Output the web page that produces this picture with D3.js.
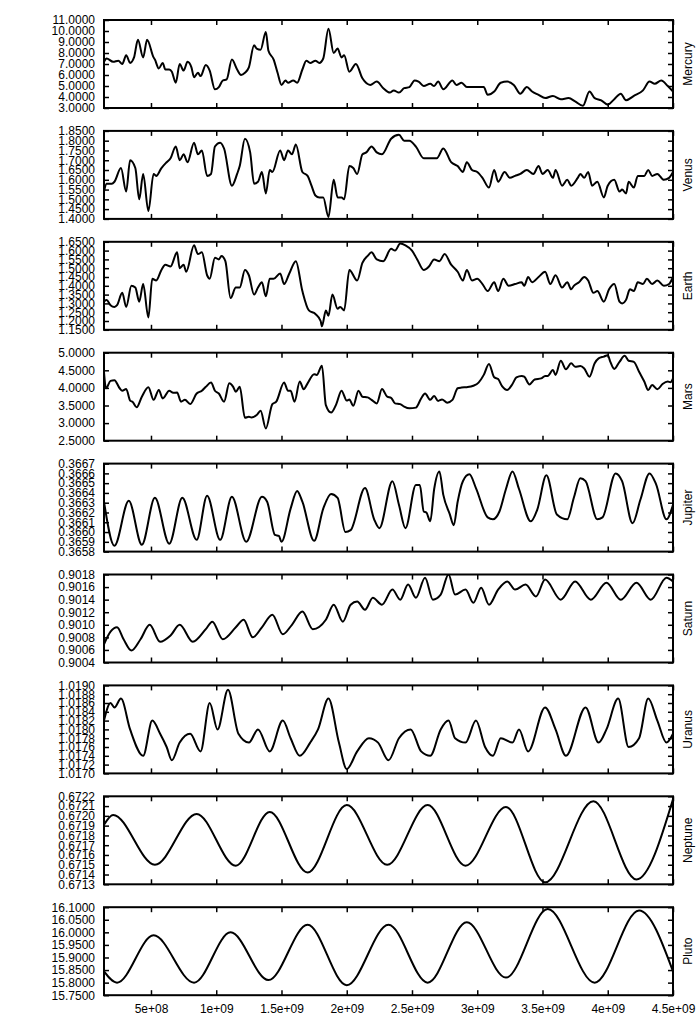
<!DOCTYPE html>
<html>
<head>
<meta charset="utf-8">
<script src="https://cdn.jsdelivr.net/npm/d3@7"></script>
<style>
  body { margin: 0; background: #fff; }
  text { font-family: "Liberation Sans", Arial, Helvetica, sans-serif; font-size: 12px; fill: #000; }
</style>
</head>
<body>
<div id="chart"></div>
<script>
// time in units of 1e9
var xTicks = [0.5, 1, 1.5, 2, 2.5, 3, 3.5, 4, 4.5];
var xTickLabels = ["5e+08", "1e+09", "1.5e+09", "2e+09", "2.5e+09", "3e+09", "3.5e+09", "4e+09", "4.5e+09"];

var names = ["Mercury", "Venus", "Earth", "Mars", "Jupiter", "Saturn", "Uranus", "Neptune", "Pluto"];

var yTicksMercury = [3, 4, 5, 6, 7, 8, 9, 10, 11];
var yTicksVenus = [1.40, 1.45, 1.50, 1.55, 1.60, 1.65, 1.70, 1.75, 1.80, 1.85];
var yTicksEarth = [1.15, 1.20, 1.25, 1.30, 1.35, 1.40, 1.45, 1.50, 1.55, 1.60, 1.65];
var yTicksMars = [2.5, 3.0, 3.5, 4.0, 4.5, 5.0];
var yTicksJupiter = [0.3658, 0.3659, 0.3660, 0.3661, 0.3662, 0.3663, 0.3664, 0.3665, 0.3666, 0.3667];
var yTicksSaturn = [0.9004, 0.9006, 0.9008, 0.9010, 0.9012, 0.9014, 0.9016, 0.9018];
var yTicksUranus = [1.0170, 1.0172, 1.0174, 1.0176, 1.0178, 1.0180, 1.0182, 1.0184, 1.0186, 1.0188, 1.0190];
var yTicksNeptune = [0.6713, 0.6714, 0.6715, 0.6716, 0.6717, 0.6718, 0.6719, 0.6720, 0.6721, 0.6722];
var yTicksPluto = [15.75, 15.80, 15.85, 15.90, 15.95, 16.00, 16.05, 16.10];

var mercury = [[0.14,7.2],[0.16,7.5],[0.21,7.2],[0.25,7.3],[0.28,7.0],[0.31,7.8],[0.34,7.1],[0.37,7.6],[0.40,9.2],[0.44,7.6],[0.47,9.2],[0.52,7.6],[0.53,7.4],[0.56,6.6],[0.59,7.1],[0.61,6.5],[0.64,6.5],[0.66,6.3],[0.69,5.3],[0.72,7.0],[0.75,6.4],[0.78,7.2],[0.81,6.7],[0.83,5.8],[0.86,6.2],[0.88,5.9],[0.92,6.9],[0.95,6.4],[0.99,4.7],[1.02,4.9],[1.05,5.5],[1.08,5.6],[1.12,7.4],[1.16,6.5],[1.19,6.0],[1.22,6.2],[1.25,6.7],[1.29,8.7],[1.31,8.4],[1.34,8.3],[1.38,9.9],[1.40,8.2],[1.44,7.4],[1.47,6.2],[1.50,5.1],[1.53,5.5],[1.55,5.3],[1.59,5.5],[1.62,5.3],[1.66,6.5],[1.69,7.3],[1.72,7.1],[1.76,7.3],[1.79,7.1],[1.82,7.5],[1.86,10.2],[1.90,8.0],[1.93,8.4],[1.96,7.6],[1.98,7.8],[2.02,6.3],[2.07,7.0],[2.12,5.7],[2.18,5.1],[2.23,5.4],[2.28,4.8],[2.33,4.4],[2.36,4.6],[2.40,4.4],[2.44,4.8],[2.48,4.9],[2.52,5.5],[2.55,5.4],[2.59,5.0],[2.64,5.2],[2.67,5.0],[2.70,5.4],[2.74,4.7],[2.81,5.5],[2.84,5.1],[2.88,5.3],[2.92,4.9],[3.01,4.9],[3.05,4.9],[3.08,4.2],[3.13,4.5],[3.18,5.3],[3.23,5.4],[3.28,5.1],[3.33,4.3],[3.38,4.9],[3.42,4.5],[3.47,4.2],[3.52,3.9],[3.58,4.1],[3.64,3.8],[3.70,3.9],[3.75,3.6],[3.81,3.2],[3.86,4.5],[3.90,3.9],[3.95,3.7],[4.00,3.3],[4.05,3.8],[4.10,4.3],[4.14,3.7],[4.20,4.1],[4.27,4.6],[4.32,5.4],[4.36,5.2],[4.41,5.5],[4.46,5.0],[4.50,4.5]];

var venus = [[0.14,1.54],[0.16,1.58],[0.20,1.58],[0.22,1.59],[0.27,1.66],[0.31,1.54],[0.34,1.70],[0.38,1.66],[0.41,1.50],[0.44,1.63],[0.48,1.44],[0.52,1.63],[0.54,1.62],[0.58,1.66],[0.62,1.69],[0.65,1.71],[0.69,1.77],[0.72,1.70],[0.75,1.73],[0.78,1.69],[0.83,1.79],[0.86,1.73],[0.89,1.75],[0.93,1.62],[0.96,1.63],[0.99,1.77],[1.03,1.79],[1.06,1.76],[1.12,1.57],[1.16,1.63],[1.18,1.67],[1.22,1.81],[1.26,1.74],[1.29,1.58],[1.32,1.59],[1.35,1.64],[1.38,1.53],[1.41,1.65],[1.43,1.64],[1.49,1.75],[1.52,1.70],[1.55,1.75],[1.58,1.73],[1.61,1.78],[1.66,1.64],[1.70,1.62],[1.73,1.57],[1.76,1.52],[1.79,1.51],[1.82,1.51],[1.86,1.41],[1.90,1.60],[1.93,1.51],[1.96,1.51],[1.98,1.50],[2.02,1.67],[2.05,1.66],[2.08,1.63],[2.12,1.73],[2.15,1.74],[2.19,1.77],[2.23,1.74],[2.27,1.73],[2.34,1.81],[2.40,1.83],[2.44,1.80],[2.48,1.80],[2.53,1.77],[2.59,1.71],[2.63,1.71],[2.69,1.71],[2.74,1.76],[2.80,1.69],[2.85,1.67],[2.89,1.64],[2.92,1.69],[2.96,1.65],[3.00,1.64],[3.04,1.61],[3.09,1.56],[3.13,1.65],[3.16,1.59],[3.21,1.64],[3.25,1.61],[3.29,1.62],[3.33,1.63],[3.38,1.65],[3.43,1.63],[3.47,1.67],[3.50,1.63],[3.54,1.65],[3.58,1.61],[3.60,1.65],[3.65,1.57],[3.69,1.60],[3.72,1.57],[3.77,1.61],[3.79,1.63],[3.82,1.61],[3.85,1.64],[3.88,1.57],[3.92,1.59],[3.97,1.51],[4.00,1.57],[4.05,1.60],[4.09,1.54],[4.11,1.55],[4.14,1.53],[4.16,1.59],[4.20,1.56],[4.23,1.62],[4.28,1.62],[4.31,1.65],[4.34,1.62],[4.38,1.63],[4.43,1.60],[4.47,1.61],[4.50,1.64]];

var earth = [[0.14,1.31],[0.16,1.32],[0.19,1.29],[0.22,1.28],[0.24,1.29],[0.28,1.36],[0.31,1.28],[0.35,1.40],[0.38,1.39],[0.41,1.31],[0.44,1.41],[0.48,1.22],[0.51,1.44],[0.54,1.43],[0.58,1.49],[0.61,1.52],[0.65,1.51],[0.70,1.59],[0.72,1.50],[0.75,1.52],[0.77,1.48],[0.83,1.63],[0.86,1.58],[0.89,1.59],[0.93,1.46],[0.95,1.44],[0.99,1.56],[1.02,1.55],[1.04,1.57],[1.07,1.54],[1.11,1.33],[1.15,1.39],[1.18,1.39],[1.22,1.49],[1.25,1.46],[1.29,1.35],[1.32,1.39],[1.35,1.42],[1.38,1.34],[1.41,1.44],[1.44,1.44],[1.49,1.47],[1.52,1.41],[1.56,1.47],[1.61,1.54],[1.66,1.37],[1.71,1.26],[1.76,1.24],[1.80,1.20],[1.81,1.17],[1.84,1.26],[1.86,1.23],[1.89,1.35],[1.93,1.27],[1.95,1.28],[1.98,1.26],[2.02,1.49],[2.08,1.43],[2.12,1.53],[2.16,1.57],[2.19,1.59],[2.23,1.55],[2.28,1.54],[2.34,1.61],[2.37,1.60],[2.41,1.64],[2.45,1.63],[2.50,1.60],[2.54,1.55],[2.59,1.49],[2.63,1.51],[2.67,1.55],[2.71,1.54],[2.75,1.58],[2.80,1.52],[2.85,1.48],[2.89,1.43],[2.92,1.49],[2.96,1.43],[3.00,1.44],[3.04,1.41],[3.08,1.37],[3.13,1.42],[3.16,1.37],[3.20,1.44],[3.24,1.40],[3.29,1.41],[3.34,1.42],[3.36,1.40],[3.39,1.45],[3.42,1.42],[3.47,1.45],[3.52,1.48],[3.56,1.41],[3.60,1.46],[3.65,1.39],[3.69,1.42],[3.72,1.38],[3.74,1.40],[3.78,1.42],[3.82,1.45],[3.85,1.43],[3.89,1.36],[3.92,1.37],[3.97,1.31],[4.01,1.38],[4.05,1.41],[4.09,1.31],[4.11,1.30],[4.14,1.32],[4.17,1.38],[4.20,1.37],[4.23,1.42],[4.27,1.41],[4.30,1.44],[4.34,1.41],[4.38,1.43],[4.43,1.40],[4.47,1.41],[4.50,1.45]];

var mars = [[0.14,4.45],[0.155,3.99],[0.19,4.20],[0.22,4.22],[0.26,3.99],[0.28,3.92],[0.31,3.97],[0.34,3.64],[0.36,3.60],[0.39,3.45],[0.43,3.75],[0.48,4.02],[0.52,3.66],[0.56,3.94],[0.59,3.70],[0.64,3.92],[0.67,3.86],[0.70,3.87],[0.73,3.61],[0.76,3.66],[0.80,3.54],[0.85,3.84],[0.89,3.92],[0.92,4.03],[0.96,4.15],[0.99,3.92],[1.02,3.84],[1.06,3.61],[1.10,4.13],[1.13,4.03],[1.15,3.89],[1.18,4.03],[1.22,3.15],[1.25,3.18],[1.27,3.16],[1.31,3.23],[1.34,3.35],[1.38,2.85],[1.43,3.54],[1.46,3.61],[1.52,4.15],[1.55,3.92],[1.57,3.92],[1.60,3.61],[1.64,4.18],[1.67,3.96],[1.70,4.13],[1.75,4.39],[1.77,4.37],[1.81,4.63],[1.84,3.51],[1.88,3.30],[1.92,3.54],[1.96,3.92],[2.00,3.64],[2.02,3.67],[2.05,3.49],[2.09,3.92],[2.12,3.75],[2.16,3.73],[2.19,3.66],[2.23,3.56],[2.27,3.97],[2.31,3.75],[2.34,3.72],[2.37,3.56],[2.41,3.54],[2.44,3.47],[2.48,3.42],[2.53,3.44],[2.57,3.70],[2.60,3.84],[2.64,3.66],[2.67,3.77],[2.70,3.63],[2.73,3.67],[2.77,3.58],[2.81,3.66],[2.85,3.99],[2.88,4.01],[2.92,4.02],[2.97,4.06],[3.01,4.15],[3.05,4.37],[3.09,4.68],[3.13,4.30],[3.16,4.25],[3.19,4.05],[3.23,3.94],[3.27,4.11],[3.30,4.30],[3.34,4.34],[3.36,4.32],[3.40,4.10],[3.44,4.24],[3.49,4.27],[3.52,4.34],[3.54,4.34],[3.58,4.51],[3.60,4.37],[3.64,4.77],[3.68,4.53],[3.72,4.70],[3.75,4.60],[3.79,4.62],[3.82,4.55],[3.86,4.32],[3.90,4.70],[3.93,4.84],[3.97,4.89],[4.00,4.93],[4.02,4.74],[4.05,4.54],[4.09,4.74],[4.13,4.91],[4.16,4.77],[4.20,4.74],[4.24,4.46],[4.28,4.18],[4.31,3.94],[4.34,4.08],[4.38,3.96],[4.42,4.11],[4.46,4.18],[4.48,4.16],[4.50,4.27]];

var jupiter = [[0.14,0.36631],[0.22,0.36586],[0.33,0.36632],[0.43,0.36587],[0.53,0.36635],[0.64,0.36588],[0.74,0.36635],[0.85,0.36592],[0.93,0.36637],[1.03,0.36592],[1.12,0.36636],[1.23,0.36590],[1.35,0.36636],[1.39,0.36631],[1.45,0.36597],[1.48,0.36596],[1.50,0.36590],[1.57,0.36624],[1.62,0.36642],[1.66,0.36631],[1.75,0.36591],[1.82,0.36624],[1.88,0.36639],[1.93,0.36635],[1.99,0.36600],[2.03,0.36602],[2.14,0.36645],[2.21,0.36613],[2.25,0.36604],[2.35,0.36652],[2.40,0.36628],[2.45,0.36604],[2.53,0.36648],[2.56,0.36648],[2.59,0.36621],[2.61,0.36620],[2.64,0.36611],[2.67,0.36644],[2.71,0.36662],[2.74,0.36638],[2.79,0.36618],[2.82,0.36607],[2.85,0.36631],[2.89,0.36652],[2.94,0.36659],[2.99,0.36645],[3.08,0.36615],[3.12,0.36613],[3.17,0.36621],[3.22,0.36644],[3.27,0.36662],[3.32,0.36644],[3.41,0.36611],[3.46,0.36623],[3.53,0.36658],[3.61,0.36618],[3.69,0.36613],[3.74,0.36635],[3.79,0.36655],[3.83,0.36652],[3.92,0.36613],[3.96,0.36615],[4.06,0.36660],[4.11,0.36652],[4.19,0.36609],[4.25,0.36633],[4.32,0.36660],[4.37,0.36649],[4.45,0.36613],[4.50,0.36628]];

var saturn = [[0.14,0.90069],[0.19,0.90089],[0.24,0.90096],[0.29,0.90077],[0.35,0.90059],[0.42,0.90077],[0.49,0.90100],[0.57,0.90073],[0.65,0.90083],[0.72,0.90100],[0.82,0.90073],[0.92,0.90093],[0.97,0.90105],[1.05,0.90077],[1.15,0.90096],[1.21,0.90108],[1.28,0.90080],[1.35,0.90096],[1.43,0.90116],[1.51,0.90085],[1.58,0.90100],[1.66,0.90121],[1.74,0.90093],[1.84,0.90108],[1.90,0.90132],[1.97,0.90105],[2.03,0.90132],[2.08,0.90137],[2.14,0.90124],[2.20,0.90143],[2.27,0.90132],[2.35,0.90156],[2.41,0.90140],[2.47,0.90164],[2.53,0.90143],[2.60,0.90175],[2.66,0.90140],[2.72,0.90148],[2.78,0.90180],[2.83,0.90148],[2.91,0.90156],[2.97,0.90135],[3.03,0.90159],[3.09,0.90132],[3.16,0.90156],[3.23,0.90169],[3.29,0.90156],[3.37,0.90164],[3.45,0.90145],[3.52,0.90172],[3.64,0.90140],[3.75,0.90169],[3.87,0.90140],[3.99,0.90167],[4.10,0.90140],[4.22,0.90167],[4.33,0.90140],[4.45,0.90175],[4.50,0.90169]];

var uranus = [[0.14,1.0182],[0.19,1.0186],[0.22,1.0185],[0.27,1.0187],[0.34,1.0180],[0.44,1.0174],[0.51,1.0182],[0.57,1.0179],[0.62,1.0176],[0.66,1.0173],[0.72,1.0177],[0.80,1.0179],[0.88,1.0175],[0.95,1.0186],[1.01,1.0180],[1.09,1.0189],[1.17,1.0179],[1.25,1.0177],[1.32,1.0180],[1.41,1.0175],[1.51,1.0182],[1.57,1.0178],[1.64,1.0174],[1.72,1.0177],[1.78,1.0180],[1.86,1.0187],[1.94,1.0177],[2.00,1.0171],[2.08,1.0175],[2.17,1.0178],[2.24,1.0177],[2.32,1.0173],[2.40,1.0178],[2.49,1.0180],[2.57,1.0175],[2.64,1.0174],[2.72,1.0180],[2.78,1.0182],[2.83,1.0178],[2.91,1.0177],[2.99,1.0182],[3.06,1.0176],[3.12,1.0174],[3.18,1.0178],[3.27,1.0177],[3.32,1.0180],[3.39,1.0175],[3.52,1.0185],[3.60,1.0180],[3.68,1.0174],[3.83,1.0185],[3.93,1.0177],[3.99,1.0180],[4.08,1.0187],[4.16,1.0176],[4.24,1.0178],[4.31,1.0187],[4.38,1.0182],[4.45,1.0177],[4.50,1.0179]];

var neptune = [[0.14,0.67191],[0.21,0.67201],[0.53,0.67150],[0.85,0.67202],[1.15,0.67149],[1.41,0.67204],[1.70,0.67142],[2.00,0.67211],[2.31,0.67150],[2.62,0.67211],[2.91,0.67149],[3.22,0.67209],[3.52,0.67132],[3.89,0.67215],[4.22,0.67135],[4.50,0.67217]];

var pluto = [[0.14,15.845],[0.24,15.80],[0.52,15.988],[0.83,15.80],[1.11,16.00],[1.40,15.81],[1.70,16.03],[2.00,15.79],[2.32,16.03],[2.62,15.80],[2.92,16.04],[3.22,15.82],[3.54,16.093],[3.90,15.80],[4.24,16.087],[4.50,15.845]];

var series = [mercury, venus, earth, mars, jupiter, saturn, uranus, neptune, pluto];
var yTickSets = [yTicksMercury, yTicksVenus, yTicksEarth, yTicksMars, yTicksJupiter, yTicksSaturn, yTicksUranus, yTicksNeptune, yTicksPluto];

var width = 700, height = 1021;
var left = 104, right = 673, top0 = 20, pitch = 110.9, ph = 88;

var svg = d3.select('#chart').append('svg')
  .attr("width", width)
  .attr("height", height);

var x = d3.scaleLinear().domain([0.14, 4.5]).range([left, right]);
var fmt = d3.format(".4f");

names.forEach(function(name, i) {
  var top = top0 + i * pitch, bottom = top + ph;
  var yt = yTickSets[i];
  var y = d3.scaleLinear().domain([yt[0], yt[yt.length - 1]]).range([bottom, top]);
  var g = svg.append("g");

  // clip so the line stays inside the frame
  g.append("clipPath").attr("id", "clip" + i)
    .append("rect").attr("x", left).attr("y", top).attr("width", right - left).attr("height", ph);

  var line = d3.line()
    .x(function(d) { return x(d[0]); })
    .y(function(d) { return y(d[1]); })
    .curve(d3.curveMonotoneX);

  g.append("path")
    .datum(series[i])
    .attr("clip-path", "url(#clip" + i + ")")
    .attr("d", line)
    .attr("fill", "none")
    .attr("stroke", "#000")
    .attr("stroke-width", 2)
    .attr("stroke-linejoin", "round");

  // inward ticks on all four sides
  var ax = [
    g.append("g").attr("transform", "translate(0," + bottom + ")")
      .call(d3.axisBottom(x).tickValues(xTicks).tickSize(-5).tickPadding(9)
        .tickFormat(function(d, k) { return i === names.length - 1 ? xTickLabels[k] : ""; })),
    g.append("g").attr("transform", "translate(0," + top + ")")
      .call(d3.axisTop(x).tickValues(xTicks).tickSize(-5).tickFormat("")),
    g.append("g").attr("transform", "translate(" + left + ",0)")
      .call(d3.axisLeft(y).tickValues(yt).tickSize(-5).tickPadding(9).tickFormat(fmt)),
    g.append("g").attr("transform", "translate(" + right + ",0)")
      .call(d3.axisRight(y).tickValues(yt).tickSize(-5).tickFormat(""))
  ];
  ax.forEach(function(a) {
    a.select(".domain").remove();
    a.selectAll("line").attr("stroke", "#000").attr("stroke-width", 1.5);
    a.selectAll("text").attr("fill", "#000").style("font-size", "12px")
      .style("font-family", '"Liberation Sans", Arial, sans-serif');
  });

  g.append("rect")
    .attr("x", left).attr("y", top)
    .attr("width", right - left).attr("height", ph)
    .attr("fill", "none").attr("stroke", "#000").attr("stroke-width", 2);

  g.append("text")
    .attr("transform", "translate(688," + (top + ph / 2) + ") rotate(-90)")
    .attr("text-anchor", "middle")
    .attr("dy", "0.35em")
    .text(name);
});
</script>
</body>
</html>
